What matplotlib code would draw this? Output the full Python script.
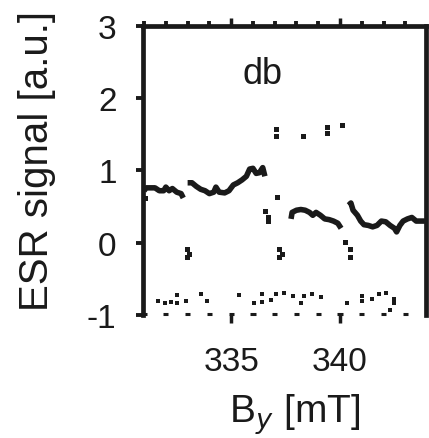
import matplotlib.pyplot as plt
from matplotlib.ticker import MultipleLocator

plt.rcParams['font.family'] = ['Liberation Sans', 'DejaVu Sans']
plt.rcParams['axes.unicode_minus'] = False

# main ESR trace (B in mT, signal in a.u.)
seg_a_b = [331.0, 331.1, 331.3, 331.5, 331.7, 331.9, 332.0, 332.15, 332.3, 332.5, 332.7, 332.8]
seg_a_s = [0.72, 0.76, 0.76, 0.76, 0.72, 0.72, 0.77, 0.72, 0.75, 0.70, 0.68, 0.62]
seg_b_b = [333.0, 333.2, 333.4, 333.6, 333.8, 334.0, 334.2, 334.3, 334.45, 334.7, 334.9,
           335.1, 335.3, 335.5, 335.7, 335.85, 336.0, 336.15, 336.3, 336.45, 336.55]
seg_b_s = [0.83, 0.83, 0.78, 0.74, 0.72, 0.68, 0.70, 0.77, 0.70, 0.69, 0.72,
           0.80, 0.83, 0.87, 0.92, 1.02, 1.03, 0.96, 0.97, 1.04, 0.92]
seg_c_b = [337.75, 337.8, 338.0, 338.2, 338.4, 338.6, 338.75, 338.9, 339.1, 339.3, 339.5,
           339.7, 339.9, 340.05]
seg_c_s = [0.33, 0.42, 0.45, 0.46, 0.45, 0.42, 0.38, 0.42, 0.38, 0.33, 0.32,
           0.30, 0.27, 0.20]
seg_d_b = [340.4, 340.5, 340.6, 340.8, 340.95, 341.1, 341.3, 341.5, 341.7, 341.9, 342.1,
           342.3, 342.5, 342.6, 342.75, 342.9, 343.1, 343.3, 343.5, 343.7, 343.9]
seg_d_s = [0.52, 0.55, 0.45, 0.38, 0.30, 0.25, 0.24, 0.22, 0.24, 0.30, 0.29,
           0.24, 0.20, 0.15, 0.24, 0.30, 0.33, 0.35, 0.30, 0.30, 0.30]

# isolated points of the trace
dot_b = [331.05, 336.55, 336.7, 336.7, 337.1,
         332.98, 332.98, 333.05, 337.2, 337.2, 337.35, 340.25, 340.45, 340.45,
         337.06, 337.06, 338.3, 339.4, 339.4, 340.1]
dot_s = [0.62, 0.44, 0.36, 0.30, 0.63,
         -0.08, -0.2, -0.15, -0.08, -0.2, -0.15, 0.01, -0.08, -0.2,
         1.58, 1.48, 1.48, 1.6, 1.52, 1.63]

# noisy points near the bottom
low_b = [331.65, 331.97, 332.25, 332.52, 332.52, 332.94, 333.62, 333.9, 335.37, 336.06,
         336.42, 336.42, 336.83, 337.06, 337.43, 337.84, 338.21, 338.35, 338.72, 339.13,
         340.32, 341.0, 341.0, 341.47, 341.79, 342.11, 342.48, 342.48, 342.3]
low_s = [-0.80, -0.84, -0.82, -0.72, -0.84, -0.81, -0.71, -0.81, -0.73, -0.84,
         -0.71, -0.82, -0.79, -0.71, -0.70, -0.74, -0.84, -0.74, -0.71, -0.75,
         -0.84, -0.74, -0.81, -0.78, -0.71, -0.70, -0.78, -0.84, -0.93]

x_ticks = [335, 340]
y_ticks = [-1, 0, 1, 2, 3]

fig = plt.figure(figsize=(4.29, 4.39), dpi=100)
ax = fig.add_axes([0.3333, 0.2802, 0.6597, 0.6583])

col = '#1a1a1a'
for b, s in [(seg_a_b, seg_a_s), (seg_b_b, seg_b_s), (seg_c_b, seg_c_s), (seg_d_b, seg_d_s)]:
    ax.plot(b, s, color=col, lw=4, solid_capstyle='butt')
ax.plot(dot_b, dot_s, 's', color=col, ms=3.6, mew=0)
ax.plot(low_b, low_s, 's', color=col, ms=3.2, mew=0)

ax.text(336.45, 2.34, 'db', fontsize=26, ha='center', va='center', color=col)

ax.set_xlim(330.95, 343.95)
ax.set_ylim(-1, 3)
ax.set_xticks(x_ticks)
ax.set_yticks(y_ticks)
ax.xaxis.set_minor_locator(MultipleLocator(1))

for side in ['left', 'top', 'right']:
    ax.spines[side].set_linewidth(3.4)
    ax.spines[side].set_color(col)
ax.spines['bottom'].set_visible(False)

ax.tick_params(axis='y', which='major', direction='out', length=5, width=2.8,
               labelsize=24, pad=14, colors=col)
ax.tick_params(axis='x', which='major', direction='out', length=6, width=2.5,
               labelsize=24, pad=16, colors=col, top=True)
ax.tick_params(axis='x', which='minor', direction='out', length=3.5, width=2.8,
               top=True, bottom=False, colors=col)

# short dashes along the missing bottom edge
for xb in range(331, 344):
    ax.plot([xb - 0.12, xb + 0.12], [-0.98, -0.98], color=col, lw=2.2,
            solid_capstyle='butt', clip_on=False)

ax.text(-0.375, 0.535, 'ESR signal [a.u.]', transform=ax.transAxes, rotation=90,
        fontsize=29, ha='center', va='center', color=col)
ax.text(0.534, -0.343, 'B$_y$ [mT]', transform=ax.transAxes,
        fontsize=28, ha='center', va='center', color=col)

fig.savefig('out.png', dpi=100)
